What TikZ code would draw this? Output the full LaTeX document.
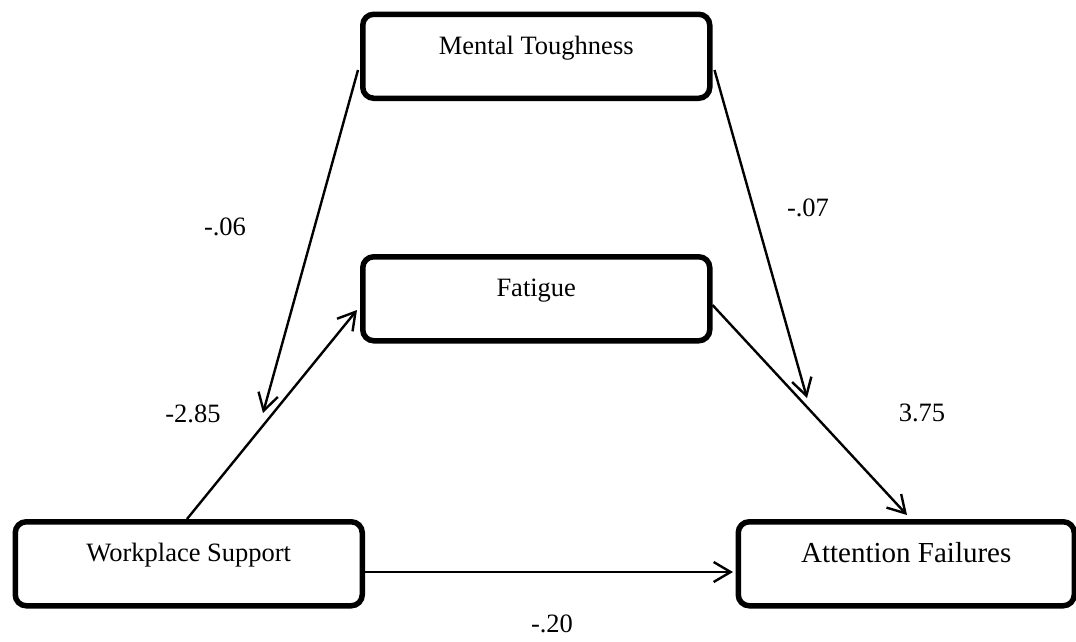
\documentclass[tikz,border=0pt]{standalone}
\usepackage{fontspec}
\setmainfont{Liberation Serif}
\usetikzlibrary{arrows.meta}
\begin{document}
\begin{tikzpicture}[x=1pt,y=-1pt,
  varbox/.style={draw=black, line width=5.5pt, rounded corners=11pt, fill=white,
    inner sep=0pt, minimum width=347pt, text height=40pt, text depth=44pt,
    anchor=north west, font=\fontsize{26.5}{30}\selectfont},
  path/.style={draw=black, line width=2.4pt,
    -{Straight Barb[length=17pt,width=20pt,line width=2.4pt]}},
  coef/.style={inner sep=0pt, font=\fontsize{26.5}{30}\selectfont}]
  \useasboundingbox (0,0) rectangle (1076,641);

  % variables
  \node[varbox] (mt)  at (360,11.5) {Mental Toughness};
  \node[varbox] (fat) at (360,254)  {Fatigue};
  \node[varbox] (wp)  at (12.5,519) {Workplace Support};
  \node[varbox, minimum width=336pt, text height=41pt, text depth=43pt,
        font=\fontsize{29}{33}\selectfont] (att) at (735.5,519) {Attention Failures};

  % moderation targets on the two paths
  \coordinate (modA) at (263,413);
  \coordinate (modB) at (807,398);

  % paths
  \draw[path] ([xshift=174.5pt]wp.north west) -- ([xshift=-3pt,yshift=-56pt]fat.north west);
  \draw[path] ([yshift=-51pt]fat.north east) -- ([xshift=171.5pt,yshift=4pt]att.north west);
  \draw[path] ([yshift=-53pt]wp.north east) -- ([xshift=-2.5pt,yshift=-53pt]att.north west);
  \draw[path] ([xshift=-2pt,yshift=-58.5pt]mt.north west) -- (modA);
  \draw[path] ([xshift=2pt,yshift=-58.5pt]mt.north east) -- (modB);

  % coefficients
  \node[coef] (c1) at (225,227) {-.06};
  \node[coef] (c2) at (808,208) {-.07};
  \node[coef] (c3) at (193,414) {-2.85};
  \node[coef] (c4) at (922,413) {3.75};
  \node[coef] (c5) at (552,624) {-.20};
\end{tikzpicture}
\end{document}
